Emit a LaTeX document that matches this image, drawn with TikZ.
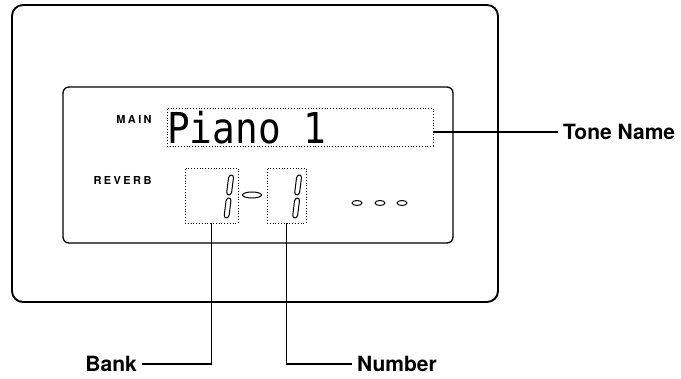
\documentclass[tikz,border=0pt]{standalone}
\usepackage{fontspec}
\usepackage{graphicx}
\setmainfont{TeX Gyre Heros}
\newfontfamily\lcdfont{DejaVu Sans Mono}
\newfontfamily\lblfont[LetterSpace=22]{TeX Gyre Heros Bold}
\begin{document}
\begin{tikzpicture}[x=1pt,y=-1pt,
  frame/.style={draw, line width=1.9pt, rounded corners=11pt},
  panel/.style={draw, line width=1.3pt, rounded corners=6pt},
  dotbox/.style={draw, line width=0.9pt, dash pattern=on 0.9pt off 1.9pt, inner sep=0pt},
  conn/.style={draw, line width=1.5pt},
  callout/.style={font=\fontsize{21}{24}\selectfont\bfseries, inner xsep=5pt, inner ysep=0pt},
  small/.style={font=\fontsize{11}{13}\lblfont, inner sep=0pt},
  segstyle/.style={draw, line width=1pt, rounded corners=1.2pt},
  oval/.style={draw, line width=1pt},
  seg/.pic={\draw[segstyle] (1.8,-10.5) -- (3.6,-8.5) -- (1.5,8.5) -- (-1.4,10.5) -- (-3.4,8.5) -- (-1.3,-8.5) -- cycle;}
]
\useasboundingbox (0,0) rectangle (681,379);

% housing and panel
\draw[frame] (12,5) rectangle (498,302);
\draw[panel] (63,87) rectangle (453,243);

% labels on the panel
\node[small] (mainlbl) at (134,119.5) {MAIN};
\node[small] (revlbl) at (122.5,180) {REVERB};

% dotted display areas
\node[dotbox, minimum width=266pt, minimum height=38pt] (mainbox) at (300,127) {};
\node[anchor=base west, inner sep=0pt] (tonetxt) at (167,144)
  {\scalebox{1.02}[1.15]{\lcdfont\fontsize{37}{40}\selectfont Piano 1}};
\node[dotbox, minimum width=53pt, minimum height=55pt] (bankbox) at (211.5,195.5) {};
\node[dotbox, minimum width=39pt, minimum height=55pt] (numbox) at (286.5,195.5) {};

% seven-segment "1" digits
\pic at (230,185) {seg};
\pic at (227.5,208) {seg};
\pic at (298,185) {seg};
\pic at (296,208) {seg};

% dash between digits and the three indicator ovals
\draw[oval] (252,195) ellipse [x radius=9.5pt, y radius=3pt];
\draw[oval] (357,203) ellipse [x radius=5pt, y radius=2.5pt];
\draw[oval] (380,203) ellipse [x radius=5pt, y radius=2.5pt];
\draw[oval] (402,203) ellipse [x radius=5pt, y radius=2.5pt];

% callout texts
\node[callout, anchor=west] (tone) at (558,132) {Tone Name};
\node[callout, anchor=east] (bank) at (142,364) {Bank};
\node[callout, anchor=west] (number) at (352,364) {Number};

% connectors
\draw[conn] (mainbox.east |- tone.west) -- (tone.west);
\draw[conn] (bankbox.south) |- (bank.east);
\draw[conn] (numbox.south) |- (number.west);
\end{tikzpicture}
\end{document}
